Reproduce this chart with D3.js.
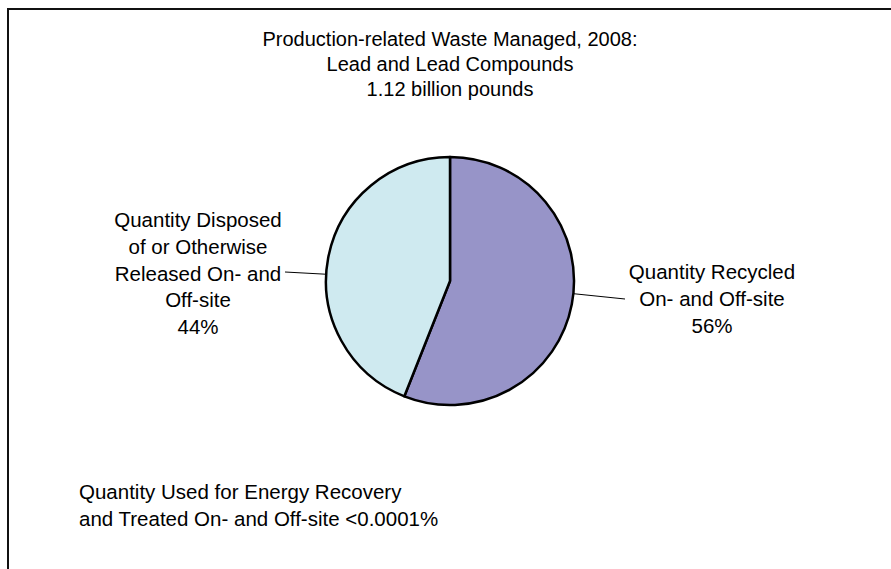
<!DOCTYPE html>
<html>
<head>
<meta charset="utf-8">
<script src="https://cdn.jsdelivr.net/npm/d3@7"></script>
<style>
  body { margin: 0; background: #fff; }
  svg text { font-family: "Liberation Sans", Arial, sans-serif; fill: #000; }
</style>
</head>
<body>
<svg id="chart" width="891" height="569"></svg>
<script>
const titleLines = ["Production-related Waste Managed, 2008:", "Lead and Lead Compounds", "1.12 billion pounds"];
const categories = ["Quantity Recycled On- and Off-site", "Quantity Disposed of or Otherwise Released On- and Off-site"];
const values = [56, 44];
const sliceColors = ["#9794c8", "#cfeaf0"];
const labelLines = [
  ["Quantity Recycled", "On- and Off-site", "56%"],
  ["Quantity Disposed", "of or Otherwise", "Released On- and", "Off-site", "44%"]
];
const footnoteLines = ["Quantity Used for Energy Recovery", "and Treated On- and Off-site <0.0001%"];

const svg = d3.select("#chart");
const width = 891, height = 569;
const cx = 450, cy = 281, radius = 124;

// frame (runs off the right and bottom edges like the source)
svg.append("rect")
  .attr("x", 8).attr("y", 9)
  .attr("width", width + 20).attr("height", height + 20)
  .attr("fill", "none").attr("stroke", "#111").attr("stroke-width", 2);

svg.append("g")
  .selectAll("text")
  .data(titleLines)
  .join("text")
  .attr("x", cx)
  .attr("y", (d, i) => 46 + i * 25)
  .attr("text-anchor", "middle")
  .style("font-size", "20px")
  .text(d => d);

const pie = d3.pie().sort(null).value(d => d);
const arcs = pie(values);
const arc = d3.arc().innerRadius(0).outerRadius(radius);

const g = svg.append("g").attr("transform", `translate(${cx},${cy})`);

g.selectAll("path")
  .data(arcs)
  .join("path")
  .attr("d", arc)
  .attr("fill", (d, i) => sliceColors[i])
  .attr("stroke", "#000")
  .attr("stroke-width", 2.5)
  .attr("stroke-linejoin", "round");

// leader lines: from the rim to the label
const labelPos = [
  { x: 712, y: 279, lineEnd: [625, 299] },
  { x: 198, y: 227, lineEnd: [285, 272] }
];

arcs.forEach((d, i) => {
  const p = labelPos[i];
  const dx = p.lineEnd[0] - cx, dy = p.lineEnd[1] - cy;
  const a = Math.atan2(dy, dx);
  const sx = cx + Math.cos(a) * radius * 1.002;
  const sy = cy + Math.sin(a) * radius * 1.002;
  svg.append("line")
    .attr("x1", sx).attr("y1", sy)
    .attr("x2", p.lineEnd[0]).attr("y2", p.lineEnd[1])
    .attr("stroke", "#000").attr("stroke-width", 1);

  svg.append("g")
    .selectAll("text")
    .data(labelLines[i])
    .join("text")
    .attr("x", p.x)
    .attr("y", (t, j) => p.y + j * 26.8)
    .attr("text-anchor", "middle")
    .style("font-size", "20.5px")
    .text(t => t);
});

svg.append("g")
  .selectAll("text")
  .data(footnoteLines)
  .join("text")
  .attr("x", 79)
  .attr("y", (d, j) => 499 + j * 26.5)
  .style("font-size", "20.5px")
  .text(d => d);
</script>
</body>
</html>
